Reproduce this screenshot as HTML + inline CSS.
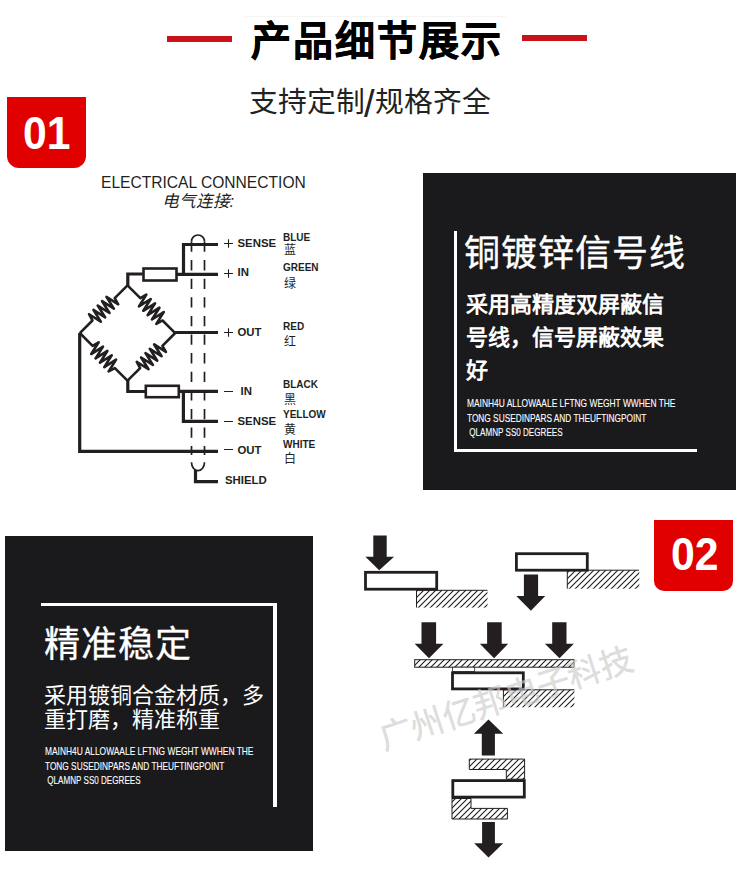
<!DOCTYPE html>
<html lang="zh-CN"><head><meta charset="utf-8">
<style>
html,body{margin:0;padding:0;background:#fff;}
body{width:741px;height:873px;position:relative;overflow:hidden;font-family:"Liberation Sans",sans-serif;color:#111;}
.a{position:absolute;white-space:nowrap;line-height:1;}
.red{position:absolute;background:#ca121a;}
.badge{position:absolute;background:#e00000;border-radius:0 0 12px 12px;}
.dark{position:absolute;background:#1a1a1c;}
.wl{position:absolute;background:#fff;}
.lbl{font-weight:bold;font-size:11.4px;color:#231f20;}
.clr{font-weight:bold;font-size:10px;color:#231f20;}
.cn{font-size:12px;color:#231f20;}
.sm{font-size:10.5px;color:#fff;transform-origin:0 0;-webkit-text-stroke:0.1px #fff;}
svg{position:absolute;left:0;top:0;}
</style></head><body>

<!-- header -->
<div style="position:absolute;left:245px;top:16px;width:261px;height:1px;background:#f5f5f5"></div>
<div class="red" style="left:167px;top:36px;width:65px;height:6px"></div>
<div class="red" style="left:522px;top:35px;width:65px;height:6px"></div>
<div class="a" id="title" style="left:250.5px;top:20.5px;font-size:40px;letter-spacing:2px;font-weight:bold;color:#000;-webkit-text-stroke:0.6px #000">产品细节展示</div>
<div class="a" id="sub" style="left:249px;top:88px;font-size:28.8px;color:#222">支持定制</div>
<div class="a" id="sub2" style="left:375px;top:88px;font-size:28.8px;color:#222">规格齐全</div>
<div class="a" id="slash" style="left:364px;top:85px;font-size:38px;color:#222">/</div>

<!-- badge 01 -->
<div class="badge" style="left:7px;top:97px;width:79px;height:71px"></div>
<div class="a" id="b01" style="left:23px;top:110px;font-size:46px;font-weight:bold;color:#fff;transform:scaleX(0.928);transform-origin:0 0">01</div>

<!-- diagram text -->
<div class="a" id="ec" style="left:101px;top:175px;font-size:15.6px;color:#231f20">ELECTRICAL CONNECTION</div>
<div class="a" id="ecn" style="left:161.5px;top:194px;font-size:16.6px;font-style:italic;color:#231f20">电气连接:</div>

<div class="a lbl" style="left:237.5px;top:238px">SENSE</div>
<div class="a lbl" style="left:237.5px;top:267px">IN</div>
<div class="a lbl" style="left:237.5px;top:327.2px">OUT</div>
<div class="a lbl" style="left:240.5px;top:385.5px">IN</div>
<div class="a lbl" style="left:237.5px;top:415.5px">SENSE</div>
<div class="a lbl" style="left:237.5px;top:445.4px">OUT</div>
<div class="a lbl" style="left:225px;top:475.4px">SHIELD</div>

<div class="a clr" style="left:283px;top:232.6px">BLUE</div>
<div class="a cn" style="left:284px;top:244px">蓝</div>
<div class="a clr" style="left:283px;top:262.6px">GREEN</div>
<div class="a cn" style="left:284px;top:278px">绿</div>
<div class="a clr" style="left:283px;top:321.7px">RED</div>
<div class="a cn" style="left:284px;top:336px">红</div>
<div class="a clr" style="left:283px;top:380.4px">BLACK</div>
<div class="a cn" style="left:284px;top:394px">黑</div>
<div class="a clr" style="left:283px;top:410px">YELLOW</div>
<div class="a cn" style="left:284px;top:424px">黄</div>
<div class="a clr" style="left:283px;top:440px">WHITE</div>
<div class="a cn" style="left:284px;top:453px">白</div>

<!-- dark box 1 -->
<div class="dark" style="left:423px;top:173px;width:313px;height:317px"></div>
<div class="wl" style="left:454px;top:231px;width:3px;height:221px"></div>
<div class="wl" style="left:454px;top:449px;width:243px;height:3px"></div>
<div class="a" id="t1" style="left:464px;top:236px;font-size:36px;letter-spacing:1px;color:#fff;-webkit-text-stroke:0.35px #fff">铜镀锌信号线</div>
<div class="a" id="s1a" style="left:466px;top:294px;font-size:22px;font-weight:bold;color:#fff;font-family:'Liberation Serif',serif">采用高精度双屏蔽信</div>
<div class="a" id="s1b" style="left:466px;top:327px;font-size:22px;font-weight:bold;color:#fff;font-family:'Liberation Serif',serif">号线，信号屏蔽效果</div>
<div class="a" id="s1c" style="left:466px;top:360px;font-size:22px;font-weight:bold;color:#fff;font-family:'Liberation Serif',serif">好</div>
<div class="a sm" id="m1a" style="left:467px;top:398px;transform:scaleX(0.80)">MAINH4U ALLOWAALE LFTNG WEGHT WWHEN THE</div>
<div class="a sm" id="m1b" style="left:467px;top:413px;transform:scaleX(0.79)">TONG SUSEDINPARS AND THEUFTINGPOINT</div>
<div class="a sm" id="m1c" style="left:467px;top:427px;transform:scaleX(0.77)">&nbsp;QLAMNP SS0 DEGREES</div>

<!-- dark box 2 -->
<div class="dark" style="left:5px;top:536px;width:308px;height:315px"></div>
<div class="wl" style="left:41px;top:603px;width:236px;height:3px"></div>
<div class="wl" style="left:273px;top:603px;width:4px;height:204px"></div>
<div class="a" id="t2" style="left:44px;top:626.5px;font-size:36px;letter-spacing:1px;color:#fff;-webkit-text-stroke:0.3px #fff">精准稳定</div>
<div class="a" id="s2a" style="left:44px;top:685px;font-size:22px;color:#fff">采用镀铜合金材质，多</div>
<div class="a" id="s2b" style="left:44px;top:709px;font-size:22px;color:#fff">重打磨，精准称重</div>
<div class="a sm" id="m2a" style="left:45px;top:746px;transform:scaleX(0.80)">MAINH4U ALLOWAALE LFTNG WEGHT WWHEN THE</div>
<div class="a sm" id="m2b" style="left:45px;top:761px;transform:scaleX(0.79)">TONG SUSEDINPARS AND THEUFTINGPOINT</div>
<div class="a sm" id="m2c" style="left:45px;top:775px;transform:scaleX(0.77)">&nbsp;QLAMNP SS0 DEGREES</div>

<!-- badge 02 -->
<div class="badge" style="left:654px;top:520px;width:79px;height:71px;border-radius:0 0 10px 10px"></div>
<div class="a" id="b02" style="left:671px;top:531px;font-size:46px;font-weight:bold;color:#fff;transform:scaleX(0.93);transform-origin:0 0">02</div>

<svg width="741" height="873" viewBox="0 0 741 873">
<defs>
<pattern id="h" patternUnits="userSpaceOnUse" width="6" height="6">
<path d="M-1,7 L7,-1 M-4,4 L4,-4 M2,10 L10,2" stroke="#231f20" stroke-width="1.15"/>
</pattern>

</defs>
<g fill="none" stroke="#231f20">
 <!-- bridge -->
 <g stroke-width="2.6" stroke-linejoin="round">
  <path d="M0.00,0.00 L18.10,0.00 L19.90,6.80 L22.97,-6.80 L26.05,6.80 L29.12,-6.80 L32.20,6.80 L35.27,-6.80 L38.35,6.80 L41.42,-6.80 L44.50,6.80 L47.58,-6.80 L49.60,0.00 L67.40,0.00" transform="translate(127.5,285.4) rotate(135) scale(1,-1)"/>
  <path d="M0.00,0.00 L18.10,0.00 L19.90,6.80 L22.97,-6.80 L26.05,6.80 L29.12,-6.80 L32.20,6.80 L35.27,-6.80 L38.35,6.80 L41.42,-6.80 L44.50,6.80 L47.58,-6.80 L49.60,0.00 L67.40,0.00" transform="translate(127.5,285.4) rotate(45) scale(1,-1)"/>
  <path d="M0.00,0.00 L18.10,0.00 L19.90,6.80 L22.97,-6.80 L26.05,6.80 L29.12,-6.80 L32.20,6.80 L35.27,-6.80 L38.35,6.80 L41.42,-6.80 L44.50,6.80 L47.58,-6.80 L49.60,0.00 L67.40,0.00" transform="translate(79.8,333) rotate(45) scale(1,-1)"/>
  <path d="M0.00,0.00 L18.10,0.00 L19.90,6.80 L22.97,-6.80 L26.05,6.80 L29.12,-6.80 L32.20,6.80 L35.27,-6.80 L38.35,6.80 L41.42,-6.80 L44.50,6.80 L47.58,-6.80 L49.60,0.00 L67.40,0.00" transform="translate(175.2,333) rotate(135) scale(1,-1)"/>
 </g>
 <g stroke-width="3.2">
  <path d="M127.8,286 V274 H142.5"/>
  <rect x="143.5" y="268.5" width="33" height="12" stroke-width="2.6"/>
  <path d="M176.8,274.3 H218 M183.5,274.3 V244.5 H218"/>
  <path d="M175,332.5 H218"/>
  <path d="M127.8,380 V391.5 H145"/>
  <rect x="145.8" y="385.8" width="33" height="11.4" stroke-width="2.6"/>
  <path d="M179,391.3 H218 M183.4,391.3 V421.4 H218"/>
  <path d="M79.7,333 V451.4 H218"/>
  <path d="M195.5,470 V481.6 H218"/>
 </g>
 <!-- plus minus -->
 <path d="M224,243.5 H233 M228.5,239.3 V247.8 M224,273.5 H233 M228.5,269.3 V277.8 M224,332.5 H233 M228.5,328.3 V336.8 M224,391.5 H233 M224,421.5 H233 M224,449.5 H233" stroke-width="1.1"/>
 <!-- shield -->
 <g stroke-width="1.7">
  <path d="M191.5,241.5 A6.5,6.5 0 0 1 204.5,241.5"/>
  <path d="M191.5,241.5 V455 M204.5,241.5 V455" stroke-dasharray="10.3 8.3"/>
  <path d="M191.5,462.3 A6.5,8.4 0 0 0 204.5,462.3"/>
 </g>
</g>

<!-- right diagrams -->
<g fill="#231f20" stroke="none">
 <!-- arrows down -->
 <path d="M373.3,535.4 H386.7 V556.7 H394.1 L379.2,570.3 L365.4,556.7 H373.3 Z"/>
 <path d="M523.9,574.4 H538.1 V596.1 H545.2 L530.9,610.8 L516.3,596.1 H523.9 Z"/>
 <path d="M421.5,622.3 H436.1 V643.7 H443.4 L429,658.2 L414.7,643.7 H421.5 Z"/>
 <path d="M487.1,622.3 H501.7 V643.7 H508.2 L494.1,658.2 L479.8,643.7 H487.1 Z"/>
 <path d="M552.2,622.3 H566.5 V643.7 H573.8 L559.5,658.2 L544.9,643.7 H552.2 Z"/>
 <!-- arrow up -->
 <path d="M488.5,719.5 L503.2,733.8 H494.9 V755.4 H481.8 V733.8 H473.9 Z"/>
 <!-- arrow down bottom -->
 <path d="M482.1,822.1 H494.9 V843.2 H503.2 L488.5,857.4 L474.2,843.2 H482.1 Z"/>
</g>
<g stroke="#231f20" fill="none">
 <!-- block 1 -->
 <rect x="416.5" y="590.3" width="71" height="17.3" fill="url(#h)" stroke="none"/>
 <path d="M416.5,607.5 V590.3 H487.5" stroke-width="1"/>
 <rect x="365.5" y="572.3" width="71.2" height="16.9" stroke-width="2.8" fill="#fff"/>
 <!-- block 2 -->
 <rect x="567.3" y="570.2" width="72" height="18.5" fill="url(#h)" stroke="none"/>
 <path d="M567.3,588.7 V570.2 H639" stroke-width="1"/>
 <rect x="516.4" y="553.7" width="70.9" height="16.5" stroke-width="2.8" fill="#fff"/>
 <!-- plate -->
 <rect x="414.7" y="659.7" width="159.3" height="7.5" fill="url(#h)" stroke-width="1"/>
 <rect x="452.4" y="667.2" width="22.3" height="4.2" stroke-width="0.8" fill="#fff"/>
 <rect x="503.4" y="689.8" width="71" height="17.5" fill="url(#h)" stroke="none"/>
 <path d="M503.4,707.3 V689.8 H574.3" stroke-width="1"/>
 <rect x="452.5" y="672.8" width="70.8" height="16.1" stroke-width="2.8" fill="#fff"/>
 <!-- C shapes -->
 <path d="M469.3,759.1 H524.6 V779.2 H506.3 V769.5 H469.3 Z" fill="url(#h)" stroke-width="1"/>
 <path d="M452,798.5 H471 V808.4 H507.4 V819 H452 Z" fill="url(#h)" stroke-width="1"/>
 <rect x="452.8" y="780.6" width="71.5" height="16.5" stroke-width="2.8" fill="#fff"/>
</g>
<!-- watermark -->
<text x="0" y="0" transform="translate(384,750) rotate(-18)" font-size="33" fill="#cbcbcb" fill-opacity="0.64" stroke="#cbcbcb" stroke-opacity="0.64" stroke-width="0.4" font-family="Liberation Sans, sans-serif">广州亿邦电子科技</text>
</svg>
</body></html>
